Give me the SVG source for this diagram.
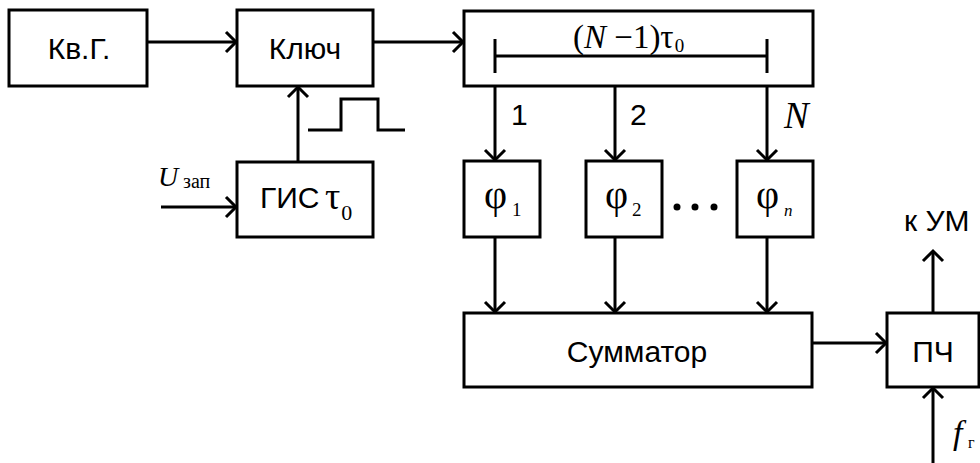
<svg xmlns="http://www.w3.org/2000/svg" width="980" height="463" viewBox="0 0 980 463">
<style>
.box{fill:#fff;stroke:#000;stroke-width:3}
.ln{fill:none;stroke:#000;stroke-width:3}
.ar{fill:none;stroke:#000;stroke-width:3;marker-end:url(#ah)}
.t{font-family:"Liberation Sans",Arial,sans-serif;font-size:30px;fill:#000}
.m{font-family:"Liberation Serif","Times New Roman",serif;fill:#000}
</style>
<defs>
<marker id="ah" markerUnits="userSpaceOnUse" markerWidth="16" markerHeight="26" viewBox="-12 -13 16 26" refX="0" refY="0" orient="auto">
<path d="M-10,-10 L0,0 L-10,10" fill="none" stroke="#000" stroke-width="3"/>
</marker>
</defs>
<rect width="980" height="463" fill="#fff"/>
<g id="connectors">
<line class="ar" x1="147" y1="42" x2="236" y2="42"/>
<line class="ar" x1="373" y1="42" x2="463" y2="42"/>
<line class="ar" x1="161" y1="207" x2="236" y2="207"/>
<line class="ar" x1="298" y1="162" x2="298" y2="87"/>
<line class="ar" x1="495" y1="86" x2="495" y2="160"/>
<line class="ar" x1="615" y1="86" x2="615" y2="160"/>
<line class="ar" x1="767" y1="86" x2="767" y2="160"/>
<line class="ar" x1="495" y1="237" x2="495" y2="312"/>
<line class="ar" x1="615" y1="237" x2="615" y2="312"/>
<line class="ar" x1="767" y1="237" x2="767" y2="312"/>
<line class="ar" x1="812" y1="343" x2="886" y2="343"/>
<line class="ar" x1="933" y1="313" x2="933" y2="251"/>
<line class="ar" x1="933" y1="463" x2="933" y2="388"/>
</g>
<g id="pulse">
<polyline class="ln" points="308,130 341,130 341,99 378,99 378,130 405,130"/>
</g>
<g id="kvg">
<rect class="box" x="9" y="10" width="138" height="76"/>
<text class="t" x="79" y="59" text-anchor="middle">Кв.Г.</text>
</g>
<g id="kluch">
<rect class="box" x="237" y="10" width="136" height="76"/>
<text class="t" x="305" y="59" text-anchor="middle">Ключ</text>
</g>
<g id="gis">
<rect class="box" x="237" y="162" width="136" height="75"/>
<text class="t" x="260" y="208">ГИС</text>
<text class="m" x="325" y="209" font-size="38">τ<tspan font-size="22" dy="11" dx="1">0</tspan></text>
</g>
<g id="uzap">
<text class="m" x="158" y="186" font-size="28" font-style="italic">U</text>
<text class="m" x="183" y="188" font-size="20">зап</text>
</g>
<g id="delay">
<rect class="box" x="464" y="11" width="349" height="75"/>
<line class="ln" x1="495" y1="56" x2="767" y2="56"/>
<line class="ln" x1="495" y1="39" x2="495" y2="73"/>
<line class="ln" x1="767" y1="39" x2="767" y2="73"/>
<text class="m" x="573" y="48" font-size="33">(<tspan font-style="italic">N</tspan> −1)τ<tspan font-size="19" dy="4" dx="1">0</tspan></text>
</g>
<g id="labels">
<text class="t" x="511" y="125" font-size="26">1</text>
<text class="t" x="630" y="125" font-size="26">2</text>
<text class="m" x="784" y="128" font-size="37" font-style="italic">N</text>
</g>
<g id="phi1">
<rect class="box" x="464" y="161" width="76" height="76"/>
<text class="m" x="484" y="208" font-size="40">φ</text>
<text class="m" x="512" y="216" font-size="19">1</text>
</g>
<g id="phi2">
<rect class="box" x="586" y="161" width="76" height="76"/>
<text class="m" x="605" y="208" font-size="40">φ</text>
<text class="m" x="632" y="216" font-size="19">2</text>
</g>
<g id="dots">
<circle cx="677" cy="207" r="3.5"/>
<circle cx="695" cy="207" r="3.5"/>
<circle cx="714" cy="207" r="3.5"/>
</g>
<g id="phin">
<rect class="box" x="737" y="161" width="76" height="76"/>
<text class="m" x="756" y="208" font-size="40">φ</text>
<text class="m" x="784" y="216" font-size="17" font-style="italic">n</text>
</g>
<g id="summator">
<rect class="box" x="464" y="313" width="348" height="74"/>
<text class="t" x="637" y="362" text-anchor="middle" font-size="31">Сумматор</text>
</g>
<g id="pch">
<rect class="box" x="887" y="313" width="92" height="74"/>
<text class="t" x="933" y="362" text-anchor="middle">ПЧ</text>
</g>
<g id="kum">
<text class="t" x="904" y="231" font-size="26">к УМ</text>
</g>
<g id="fg">
<text class="m" x="953" y="444" font-size="34" font-style="italic">f</text>
<text class="m" x="968" y="448" font-size="16">г</text>
</g>
</svg>
